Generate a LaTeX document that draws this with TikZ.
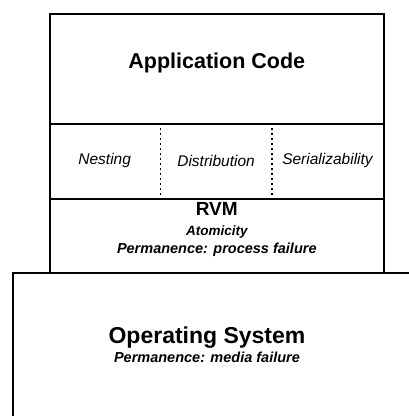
\documentclass[tikz,border=0pt]{standalone}
\usepackage{fontspec}
\setmainfont{Liberation Sans}
\usetikzlibrary{positioning}

\begin{document}
\begin{tikzpicture}[x=1pt, y=-1pt,
    layer/.style={draw, line width=1.6pt, minimum width=334pt, inner sep=0pt, anchor=north west},
    cell/.style={minimum width=111pt, minimum height=75pt, inner sep=0pt, font=\itshape\fontsize{15.5}{17}\selectfont},
    sep/.style={line width=1.4pt, dash pattern=on 2pt off 3pt},
    big/.style={font=\bfseries\fontsize{21.5}{24}\selectfont, inner sep=0pt},
    small/.style={font=\bfseries\itshape\fontsize{14.5}{16}\selectfont, inner sep=0pt, anchor=base}
  ]
\useasboundingbox (0,0) rectangle (409,416);
\clip (0,0) rectangle (409,416);

% Application layer on top
\node[layer, minimum height=110pt] (app) at (49,13) {};
\node[big] (apptext) at ([yshift=6pt]app.center) {Application Code};

% Transaction properties row
\node[layer, minimum height=75pt] (props) at (49,123) {};
\node[cell, anchor=north west] (nest) at (props.north west) {Nesting};
\node[cell, right=0pt of nest] (dist) {Distribution};
\node[cell, right=0pt of dist] (ser) {Serializability};
\draw[sep] (nest.north east) -- (nest.south east);
\draw[sep] (dist.north east) -- (dist.south east);

% RVM layer
\node[layer, minimum height=74pt] (rvm) at (49,198) {};
\node[big, font=\bfseries\fontsize{19}{22}\selectfont, anchor=base] (rvmtext) at ([yshift=-17pt]rvm.north) {RVM};
\node[small, font=\bfseries\itshape\fontsize{13.5}{15}\selectfont] (atom) at ([yshift=-20pt]rvmtext.base) {Atomicity};
\node[small] (procfail) at ([yshift=-18pt]atom.base) {Permanence: process failure};

% Operating system, running off the page
\node[layer, minimum width=420pt, minimum height=170pt] (os) at (12,272) {};
\node[big, font=\bfseries\fontsize{23}{26}\selectfont] (ostext) at (207,338) {Operating System};
\node[small, anchor=north, below=3pt of ostext] (mediafail) {Permanence: media failure};

\end{tikzpicture}
\end{document}
